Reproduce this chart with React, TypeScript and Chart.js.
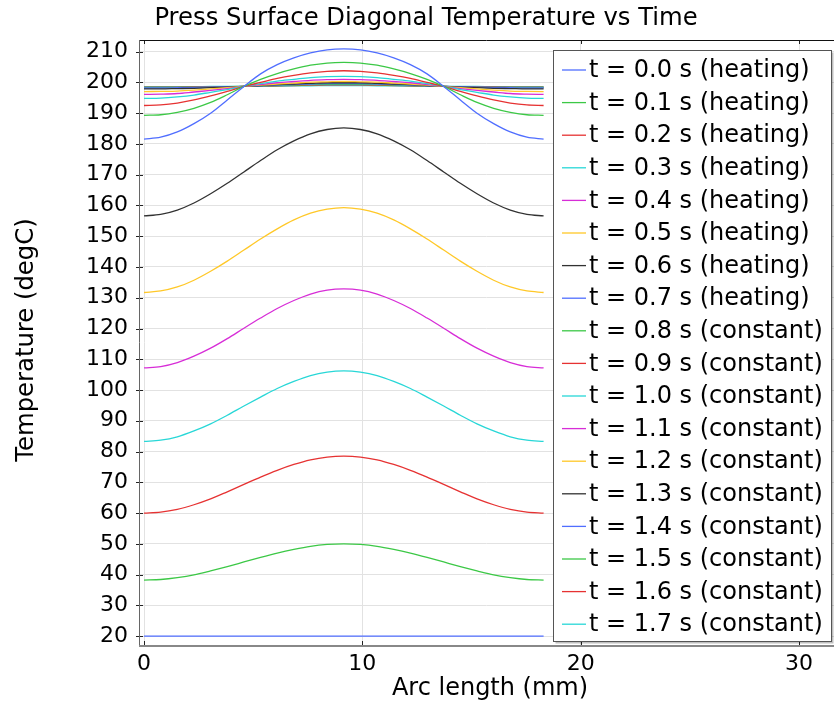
import React, { useEffect, useRef } from "react";
import { Chart, registerables } from "chart.js";

Chart.register(...registerables);

const arcLength = [0, 0.7625, 1.525, 2.2875, 3.05, 3.8125, 4.575, 5.3375, 6.1, 6.8625, 7.625, 8.3875, 9.15, 9.9125, 10.675, 11.4375, 12.2, 12.9625, 13.725, 14.4875, 15.25, 16.0125, 16.775, 17.5375, 18.3];

const times = ["0.0", "0.1", "0.2", "0.3", "0.4", "0.5", "0.6", "0.7", "0.8", "0.9", "1.0", "1.1", "1.2", "1.3", "1.4", "1.5", "1.6", "1.7"];
const phases = ["heating", "heating", "heating", "heating", "heating", "heating", "heating", "heating", "constant", "constant", "constant", "constant", "constant", "constant", "constant", "constant", "constant", "constant"];

const t00 = [20, 20, 20, 20, 20, 20, 20, 20, 20, 20, 20, 20, 20, 20, 20, 20, 20, 20, 20, 20, 20, 20, 20, 20, 20];
const t01 = [38.2, 38.4, 39.0, 39.9, 41.2, 42.6, 44.1, 45.6, 47.0, 48.2, 49.2, 49.8, 50.0, 49.8, 49.2, 48.2, 47.0, 45.6, 44.1, 42.6, 41.2, 39.9, 39.0, 38.4, 38.2];
const t02 = [60.0, 60.3, 61.2, 62.7, 64.6, 66.9, 69.3, 71.7, 73.9, 75.8, 77.3, 78.2, 78.5, 78.2, 77.3, 75.8, 73.9, 71.7, 69.3, 66.9, 64.6, 62.7, 61.2, 60.3, 60.0];
const t03 = [83.3, 83.7, 84.8, 86.7, 89.0, 91.8, 94.8, 97.7, 100.5, 102.8, 104.7, 105.8, 106.2, 105.8, 104.7, 102.8, 100.5, 97.7, 94.8, 91.8, 89.0, 86.7, 84.8, 83.7, 83.3];
const t04 = [107.2, 107.6, 108.9, 111.0, 113.6, 116.7, 120.1, 123.4, 126.5, 129.1, 131.2, 132.5, 132.9, 132.5, 131.2, 129.1, 126.5, 123.4, 120.1, 116.7, 113.6, 111.0, 108.9, 107.6, 107.2];
const t05 = [131.7, 132.2, 133.5, 135.7, 138.6, 141.9, 145.5, 149.1, 152.4, 155.3, 157.5, 158.8, 159.3, 158.8, 157.5, 155.3, 152.4, 149.1, 145.5, 141.9, 138.6, 135.7, 133.5, 132.2, 131.7];
const t06 = [156.6, 157.1, 158.5, 160.8, 163.8, 167.2, 170.9, 174.6, 178.1, 181.0, 183.3, 184.7, 185.2, 184.7, 183.3, 181.0, 178.1, 174.6, 170.9, 167.2, 163.8, 160.8, 158.5, 157.1, 156.6];
const t07 = [181.6, 182.2, 183.9, 186.6, 190.0, 194.3, 198.7, 202.8, 205.8, 208.0, 209.6, 210.6, 210.9, 210.6, 209.6, 208.0, 205.8, 202.8, 198.7, 194.3, 190.0, 186.6, 183.9, 182.2, 181.6];
const t08 = [189.3, 189.5, 190.3, 191.6, 193.5, 196.0, 198.7, 201.0, 202.9, 204.4, 205.6, 206.3, 206.5, 206.3, 205.6, 204.4, 202.9, 201.0, 198.7, 196.0, 193.5, 191.6, 190.3, 189.5, 189.3];
const t09 = [192.5, 192.7, 193.3, 194.3, 195.6, 197.1, 198.7, 200.0, 201.3, 202.3, 203.1, 203.6, 203.8, 203.6, 203.1, 202.3, 201.3, 200.0, 198.7, 197.1, 195.6, 194.3, 193.3, 192.7, 192.5];
const t10 = [194.8, 194.9, 195.3, 195.9, 196.8, 197.7, 198.7, 199.6, 200.4, 201.0, 201.6, 201.9, 202.0, 201.9, 201.6, 201.0, 200.4, 199.6, 198.7, 197.7, 196.8, 195.9, 195.3, 194.9, 194.8];
const t11 = [196.1, 196.2, 196.4, 196.9, 197.4, 198.0, 198.7, 199.3, 199.9, 200.3, 200.7, 200.9, 201.0, 200.9, 200.7, 200.3, 199.9, 199.3, 198.7, 198.0, 197.4, 196.9, 196.4, 196.2, 196.1];
const t12 = [197.0, 197.1, 197.2, 197.5, 197.9, 198.3, 198.7, 199.1, 199.5, 199.8, 200.1, 200.2, 200.3, 200.2, 200.1, 199.8, 199.5, 199.1, 198.7, 198.3, 197.9, 197.5, 197.2, 197.1, 197.0];
const t13 = [197.9, 197.9, 198.0, 198.1, 198.3, 198.5, 198.7, 199.0, 199.3, 199.5, 199.7, 199.9, 199.9, 199.9, 199.7, 199.5, 199.3, 199.0, 198.7, 198.5, 198.3, 198.1, 198.0, 197.9, 197.9];
const t14 = [198.2, 198.2, 198.3, 198.4, 198.5, 198.6, 198.7, 198.9, 199.1, 199.3, 199.5, 199.6, 199.6, 199.6, 199.5, 199.3, 199.1, 198.9, 198.7, 198.6, 198.5, 198.4, 198.3, 198.2, 198.2];
const t15 = [198.4, 198.4, 198.4, 198.5, 198.5, 198.6, 198.7, 198.8, 199.0, 199.1, 199.3, 199.4, 199.4, 199.4, 199.3, 199.1, 199.0, 198.8, 198.7, 198.6, 198.5, 198.5, 198.4, 198.4, 198.4];
const t16 = [198.5, 198.5, 198.5, 198.6, 198.6, 198.6, 198.7, 198.8, 198.9, 199.0, 199.1, 199.2, 199.2, 199.2, 199.1, 199.0, 198.9, 198.8, 198.7, 198.6, 198.6, 198.6, 198.5, 198.5, 198.5];
const t17 = [198.6, 198.6, 198.6, 198.6, 198.7, 198.7, 198.7, 198.8, 198.8, 198.9, 198.9, 199.0, 199.0, 199.0, 198.9, 198.9, 198.8, 198.8, 198.7, 198.7, 198.7, 198.6, 198.6, 198.6, 198.6];

const series = [t00, t01, t02, t03, t04, t05, t06, t07, t08, t09, t10, t11, t12, t13, t14, t15, t16, t17];

const palette = [
  "rgb(80,110,255)",
  "rgb(60,200,70)",
  "rgb(230,50,50)",
  "rgb(40,215,215)",
  "rgb(215,45,215)",
  "rgb(255,200,40)",
  "rgb(50,50,50)",
];

const xTicks = [0, 10, 20, 30];
const yTicks = [20, 30, 40, 50, 60, 70, 80, 90, 100, 110, 120, 130, 140, 150, 160, 170, 180, 190, 200, 210];

const titleText = "Press Surface Diagonal Temperature vs Time";
const xTitle = "Arc length (mm)";
const yTitle = "Temperature (degC)";

const FONT = "'DejaVu Sans', sans-serif";

const overlayPlugin = {
  id: "overlay",
  afterDraw(chart: any) {
    const ctx = chart.ctx as CanvasRenderingContext2D;
    const a = chart.chartArea;
    const xs = chart.scales.x;
    const ys = chart.scales.y;
    ctx.save();

    // inward ticks
    ctx.strokeStyle = "#222";
    ctx.lineWidth = 1;
    ctx.beginPath();
    for (const v of yTicks) {
      const y = Math.round(ys.getPixelForValue(v)) + 0.5;
      ctx.moveTo(a.left - 3, y);
      ctx.lineTo(a.left + 4, y);
    }
    for (const v of xTicks) {
      const x = Math.round(xs.getPixelForValue(v)) + 0.5;
      ctx.moveTo(x, a.bottom);
      ctx.lineTo(x, a.bottom - 4);
      ctx.moveTo(x, a.top);
      ctx.lineTo(x, a.top + 4);
    }
    ctx.stroke();

    // frame
    ctx.strokeStyle = "#111";
    ctx.lineWidth = 1;
    ctx.beginPath();
    ctx.moveTo(a.left, a.top + 0.5);
    ctx.lineTo(a.right, a.top + 0.5);
    ctx.stroke();
    ctx.strokeStyle = "#666";
    ctx.beginPath();
    ctx.moveTo(a.left + 0.5, a.top);
    ctx.lineTo(a.left + 0.5, a.bottom);
    ctx.stroke();
    ctx.strokeStyle = "#888";
    ctx.lineWidth = 2;
    ctx.beginPath();
    ctx.moveTo(a.left, a.bottom + 1);
    ctx.lineTo(a.right, a.bottom + 1);
    ctx.stroke();

    // legend
    const lx = 553.5, ly = 50.5, lw = 278, lh = 591;
    ctx.fillStyle = "rgba(0,0,0,0.25)";
    ctx.fillRect(lx + 2, ly + 2, lw, lh);
    ctx.fillStyle = "#fff";
    ctx.fillRect(lx, ly, lw, lh);
    ctx.strokeStyle = "#555";
    ctx.lineWidth = 1;
    ctx.strokeRect(lx, ly, lw, lh);
    ctx.font = `24px ${FONT}`;
    ctx.textBaseline = "middle";
    ctx.textAlign = "left";
    for (let i = 0; i < times.length; i++) {
      const cy = 70 + i * 32.6;
      ctx.strokeStyle = palette[i % palette.length];
      ctx.lineWidth = 1.3;
      ctx.beginPath();
      ctx.moveTo(562, cy);
      ctx.lineTo(586, cy);
      ctx.stroke();
      ctx.fillStyle = "#000";
      ctx.fillText(`t = ${times[i]} s (${phases[i]})`, 589, cy + 1);
    }

    // titles
    ctx.fillStyle = "#000";
    ctx.textAlign = "center";
    ctx.font = `24.3px ${FONT}`;
    ctx.fillText(titleText, 426, 19);
    ctx.font = `24px ${FONT}`;
    ctx.fillText(xTitle, 490, 689);
    ctx.save();
    ctx.translate(27, 340);
    ctx.rotate(-Math.PI / 2);
    ctx.font = `24.3px ${FONT}`;
    ctx.fillText(yTitle, 0, 0);
    ctx.restore();

    ctx.restore();
  },
};

export default function App() {
  const ref = useRef<HTMLCanvasElement | null>(null);

  useEffect(() => {
    if (!ref.current) return;
    const datasets = series.map((vals, i) => ({
      label: `t = ${times[i]} s (${phases[i]})`,
      data: vals.map((v, j) => ({ x: arcLength[j], y: v })),
      borderColor: palette[i % palette.length],
      backgroundColor: palette[i % palette.length],
      borderWidth: 1.3,
      pointRadius: 0,
      cubicInterpolationMode: "monotone" as const,
      fill: false,
    }));
    const chart = new Chart(ref.current, {
      type: "line",
      data: { datasets },
      options: {
        animation: false,
        responsive: false,
        layout: { padding: { top: 40, left: 0, right: 0, bottom: 0 } },
        plugins: {
          legend: { display: false },
          title: { display: false },
          tooltip: { enabled: false },
        },
        scales: {
          x: {
            type: "linear",
            min: -0.23,
            max: 31.6,
            afterBuildTicks: (s: any) => {
              s.ticks = xTicks.map((v) => ({ value: v }));
            },
            afterFit: (s: any) => {
              s.height = 59;
            },
            grid: { color: "rgb(226,226,226)", drawTicks: false, lineWidth: 1 },
            border: { display: false },
            ticks: {
              color: "#000",
              font: { family: FONT, size: 22 },
              padding: 6,
              maxRotation: 0,
            },
          },
          y: {
            type: "linear",
            min: 17.1,
            max: 213.8,
            afterBuildTicks: (s: any) => {
              s.ticks = yTicks.map((v) => ({ value: v }));
            },
            afterFit: (s: any) => {
              s.width = 139;
            },
            grid: { color: "rgb(226,226,226)", drawTicks: false, lineWidth: 1 },
            border: { display: false },
            ticks: {
              color: "#000",
              font: { family: FONT, size: 22 },
              padding: 11,
            },
          },
        },
      },
      plugins: [overlayPlugin],
    });
    return () => chart.destroy();
  }, []);

  return (
    <div style={{ position: "absolute", left: 0, top: 0, width: 834, height: 704, background: "#fff" }}>
      <canvas ref={ref} width={834} height={704} style={{ width: 834, height: 704 }} />
    </div>
  );
}
